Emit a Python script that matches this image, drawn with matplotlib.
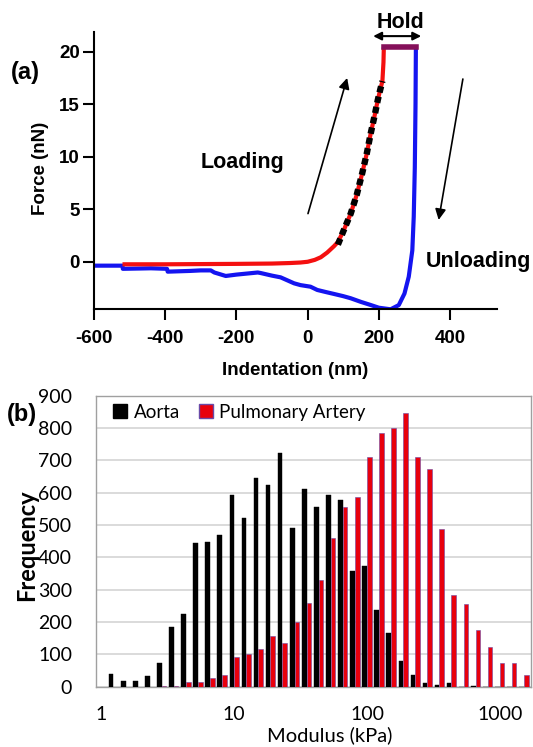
import matplotlib
matplotlib.use("Agg")
import matplotlib.pyplot as plt
import numpy as np
from matplotlib.patches import Patch

plt.rcParams["axes.unicode_minus"] = False

# ---------------- Panel (a) data ----------------
load_x = [-520, -400, -300, -200, -100, -50, -20, 0, 20, 37, 55, 74, 85, 100, 121, 138, 153, 166, 177, 188, 197, 204, 210, 213, 214]
load_y = [-0.22, -0.22, -0.2, -0.18, -0.15, -0.1, -0.05, 0.02, 0.2, 0.45, 0.9, 1.5, 1.9, 2.9, 4.6, 6.4, 8.4, 10.3, 12.2, 13.9, 15.4, 16.4, 17.2, 19.0, 20.4]

fit_x = [85, 100, 121, 138, 153, 166, 177, 188, 197, 204, 210]
fit_y = [1.65, 2.9, 4.6, 6.4, 8.4, 10.3, 12.2, 13.9, 15.4, 16.4, 17.2]

hold_x = [214, 305]
hold_y = [20.45, 20.45]

unload_x = [-600, -520, -519, -470, -440, -395, -393, -330, -300, -272, -262, -230, -200, -170,
            -140, -132, -100, -76, -60, -38, -20, 8, 27, 50, 74, 100, 121, 150, 177, 200, 233,
            256, 272, 284, 294, 298, 301, 303, 304]
unload_y = [-0.35, -0.35, -0.65, -0.62, -0.6, -0.65, -0.92, -0.85, -0.8, -0.8, -1.0, -1.33, -1.2, -1.1,
            -1.0, -1.05, -1.3, -1.46, -1.7, -2.03, -2.2, -2.35, -2.66, -2.85, -3.04, -3.25, -3.45, -3.8, -4.09, -4.35, -4.5,
            -4.1, -3.0, -1.4, 1.1, 4.3, 9.0, 15.0, 20.3]

a_xticks = [-600, -400, -200, 0, 200, 400]
a_yticks = [0, 5, 10, 15, 20]

# ---------------- Panel (b) data ----------------
modulus_bins = [1.233, 1.520, 1.874, 2.310, 2.848, 3.511, 4.329, 5.337, 6.579, 8.111,
                10.0, 12.33, 15.20, 18.74, 23.10, 28.48, 35.11, 43.29, 53.37, 65.79,
                81.11, 100.0, 123.3, 152.0, 187.4, 231.0, 284.8, 351.1, 432.9, 533.7,
                657.9, 811.1, 1000.0, 1233.0, 1520.0]
aorta = [39, 19, 19, 33, 73, 185, 224, 443, 449, 470, 593, 522, 647, 623, 722, 490, 610, 555, 592, 577,
         359, 372, 237, 166, 79, 36, 11, 6, 11, 0, 1, 0, 0, 0, 0]
pulmonary = [0, 0, 0, 0, 1, 1, 15, 15, 27, 37, 92, 101, 118, 156, 135, 199, 258, 329, 461, 556,
             588, 711, 784, 800, 845, 711, 672, 489, 285, 256, 175, 123, 74, 74, 36]
b_xticks = [1, 10, 100, 1000]
b_xticklabels = ["1", "10", "100", "1000"]
b_yticks = [0, 100, 200, 300, 400, 500, 600, 700, 800, 900]

W, H = 533, 747
fig = plt.figure(figsize=(W / 100, H / 100), dpi=100)
fig.patch.set_facecolor("white")

# ======== Panel (a) ========
fa = "Liberation Sans"
ax = fig.add_axes([94 / W, (H - 309.3) / H, (496.7 - 94) / W, (309.3 - 31.7) / H])
ax.plot(unload_x, unload_y, color="#1414f0", lw=3.0, solid_joinstyle="round", zorder=2)
ax.plot(load_x, load_y, color="#f41010", lw=3.0, solid_capstyle="butt", zorder=3)
ax.plot(fit_x, fit_y, color="black", lw=4.6, dashes=(1.0, 0.65), dash_capstyle="butt", zorder=4)
ax.plot(hold_x, hold_y, color="#85105a", lw=4.0, zorder=4)

ax.set_xlim(-600, 531)
ax.set_ylim(-4.5, 21.9)
ax.set_xticks(a_xticks)
ax.set_yticks(a_yticks)
for s in ["top", "right"]:
    ax.spines[s].set_visible(False)
for s in ["left", "bottom"]:
    ax.spines[s].set_linewidth(1.5)
ax.tick_params(axis="both", direction="out", length=8, width=1.5)
ax.tick_params(axis="x", pad=7)
ax.tick_params(axis="y", pad=2)
for lab in ax.get_xticklabels() + ax.get_yticklabels():
    lab.set_fontfamily(fa)
    lab.set_fontweight("bold")
    lab.set_fontsize(13.5)
ax.set_xlabel("Indentation (nm)", fontfamily=fa, fontweight="bold", fontsize=13.5, va="center")
ax.xaxis.set_label_coords(0.5, -0.219)
ax.set_ylabel("Force (nN)", fontfamily=fa, fontweight="bold", fontsize=13.5, va="center")
ax.yaxis.set_label_coords(-0.132, 0.508)

ax.text(-184, 9.5, "Loading", fontfamily=fa, fontweight="bold", fontsize=15.5, ha="center", va="center")
ax.text(479, 0.03, "Unloading", fontfamily=fa, fontweight="bold", fontsize=15.5, ha="center", va="center", clip_on=False)
ax.text(261, 22.75, "Hold", fontfamily=fa, fontweight="bold", fontsize=15.5, ha="center", va="center", clip_on=False)

ax.annotate("", xy=(111, 17.5), xytext=(1, 4.6),
            arrowprops=dict(arrowstyle="-|>", lw=1.2, color="black", mutation_scale=16, shrinkA=0, shrinkB=0))
ax.annotate("", xy=(368, 4.0), xytext=(436, 17.4),
            arrowprops=dict(arrowstyle="-|>", lw=1.2, color="black", mutation_scale=16, shrinkA=0, shrinkB=0))
ax.annotate("", xy=(319, 21.48), xytext=(184, 21.48), annotation_clip=False,
            arrowprops=dict(arrowstyle="<|-|>", lw=1.5, color="black", mutation_scale=12, shrinkA=0, shrinkB=0))

fig.text(25 / W, 1 - 72 / H, "(a)", fontfamily=fa, fontweight="bold", fontsize=17, ha="center", va="center")

# ======== Panel (b) ========
fb = "Lato"
bx = fig.add_axes([95.7 / W, (H - 686.7) / H, (530.7 - 95.7) / W, (686.7 - 395.7) / H])
bx.set_xscale("log")
centers = np.array(modulus_bins)
bw = 0.035  # bar width in decades
left_black = centers * 10 ** (-bw)
bx.bar(left_black, aorta, width=centers - left_black, align="edge", color="black",
       edgecolor="black", linewidth=0.3, zorder=3)
bx.bar(centers, pulmonary, width=centers * (10 ** bw - 1), align="edge", color="#e8000d",
       edgecolor="#6a4aa8", linewidth=0.4, zorder=3)

bx.set_xlim(0.906, 1710)
bx.set_ylim(0, 900)
bx.set_xticks(b_xticks)
bx.set_xticklabels(b_xticklabels)
bx.xaxis.set_minor_locator(matplotlib.ticker.NullLocator())
bx.set_yticks(b_yticks)
bx.yaxis.grid(True, color="#d4d4d4", lw=1.2, zorder=0)
bx.set_axisbelow(True)
for s in bx.spines.values():
    s.set_color("#a0a0a0")
    s.set_linewidth(1.0)
bx.tick_params(axis="both", length=0, labelsize=14)
bx.tick_params(axis="x", pad=14)
bx.tick_params(axis="y", pad=17)
for lab in bx.get_xticklabels() + bx.get_yticklabels():
    lab.set_fontfamily(fb)
bx.set_ylabel("Frequency", fontfamily=fb, fontweight="bold", fontsize=17, va="center")
bx.yaxis.set_label_coords(-0.158, 0.487)
bx.set_xlabel("Modulus (kPa)", fontfamily=fb, fontsize=14.5, va="center")
bx.xaxis.set_label_coords(0.539, -0.166)

handles = [Patch(facecolor="black", edgecolor="black", label="Aorta"),
           Patch(facecolor="#e8000d", edgecolor="#6a4aa8", label="Pulmonary Artery")]
leg = bx.legend(handles=handles, loc="center left", bbox_to_anchor=(0.04, 0.943), ncol=2,
                frameon=False, borderpad=0, borderaxespad=0, handlelength=0.75, handleheight=0.75,
                handletextpad=0.35, columnspacing=1.0, prop={"family": fb, "size": 13.5})

fig.text(22 / W, 1 - 414 / H, "(b)", fontfamily=fa, fontweight="bold", fontsize=17, ha="center", va="center")

fig.savefig("out.png", dpi=100, facecolor="white")
